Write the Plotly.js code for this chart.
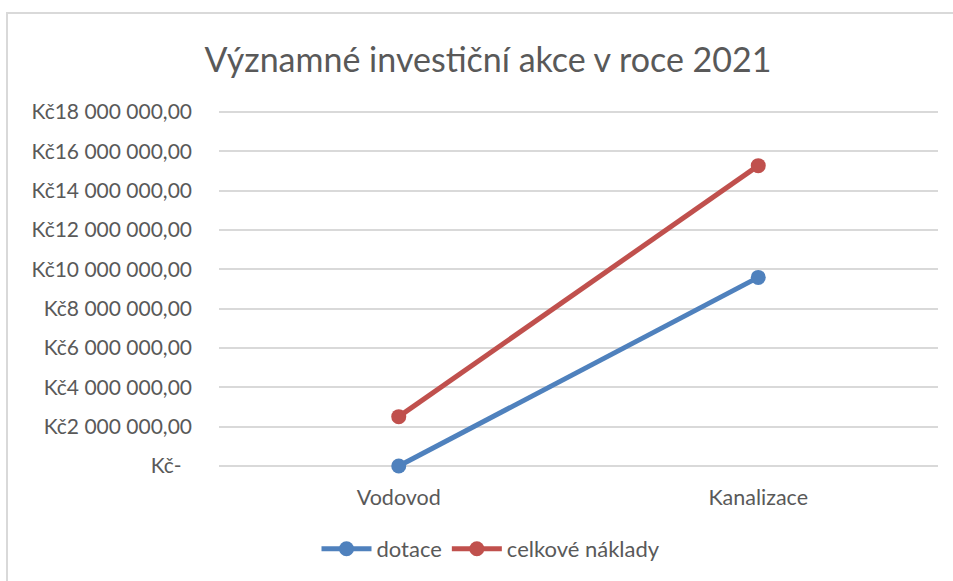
<!DOCTYPE html>
<html>
<head>
<meta charset="utf-8">
<script src="https://cdn.plot.ly/plotly-3.0.1.min.js"></script>
<style>
html,body{margin:0;padding:0;background:#fff;}
#frame{position:absolute;left:6px;top:12px;width:1000px;height:600px;border-left:2px solid #d9d9d9;border-top:2px solid #d9d9d9;}
#chart{position:absolute;left:0;top:0;width:953px;height:581px;}
</style>
</head>
<body>
<div id="frame"></div>
<div id="chart"></div>
<script>
const categories = ["Vodovod", "Kanalizace"];
const dotace = [0, 9590000];
const celkoveNaklady = [2510000, 15270000];
const tickValues = [0, 2000000, 4000000, 6000000, 8000000, 10000000, 12000000, 14000000, 16000000, 18000000];
const tickLabels = ["Kč-\u2002", "Kč2 000 000,00", "Kč4 000 000,00", "Kč6 000 000,00", "Kč8 000 000,00", "Kč10 000 000,00", "Kč12 000 000,00", "Kč14 000 000,00", "Kč16 000 000,00", "Kč18 000 000,00"];
const seriesNames = ["dotace", "celkové náklady"];

const font = "Lato, 'Open Sans', sans-serif";
const traces = [
  {x: categories, y: dotace, name: seriesNames[0], type: "scatter", mode: "lines+markers", cliponaxis: false,
   line: {color: "#4f81bd", width: 5}, marker: {color: "#4f81bd", size: 15}},
  {x: categories, y: celkoveNaklady, name: seriesNames[1], type: "scatter", mode: "lines+markers", cliponaxis: false,
   line: {color: "#c0504d", width: 5}, marker: {color: "#c0504d", size: 15}}
];
const layout = {
  width: 953, height: 581,
  paper_bgcolor: "rgba(0,0,0,0)", plot_bgcolor: "rgba(0,0,0,0)",
  margin: {l: 219, r: 15, t: 110, b: 113},
  font: {family: font, color: "#595959"},
  title: {text: "Významné investiční akce v roce 2021", font: {family: font, size: 34, color: "#595959"},
          xref: "container", x: 488/953, xanchor: "center", yref: "container", y: 1 - 60/581, yanchor: "middle"},
  xaxis: {type: "category", range: [-0.5, 1.5], showgrid: false, zeroline: false, showline: false,
          ticks: "", tickfont: {size: 21.5, color: "#595959"}, ticklabelstandoff: 14},
  yaxis: {range: [-100000, 18100000], tickvals: tickValues, ticktext: tickLabels, showgrid: true,
          gridcolor: "#d9d9d9", gridwidth: 2, zeroline: false, showline: false, ticks: "",
          tickfont: {size: 21, color: "#595959"}, ticklabelstandoff: 26},
  showlegend: true,
  legend: {orientation: "h", xref: "container", x: 491/953, xanchor: "center", yref: "container", y: 1 - 549/581, yanchor: "middle",
           font: {size: 22, color: "#595959"}, itemwidth: 50, tracegroupgap: 0}
};
Plotly.newPlot("chart", traces, layout, {displayModeBar: false, staticPlot: true});
</script>
</body>
</html>
